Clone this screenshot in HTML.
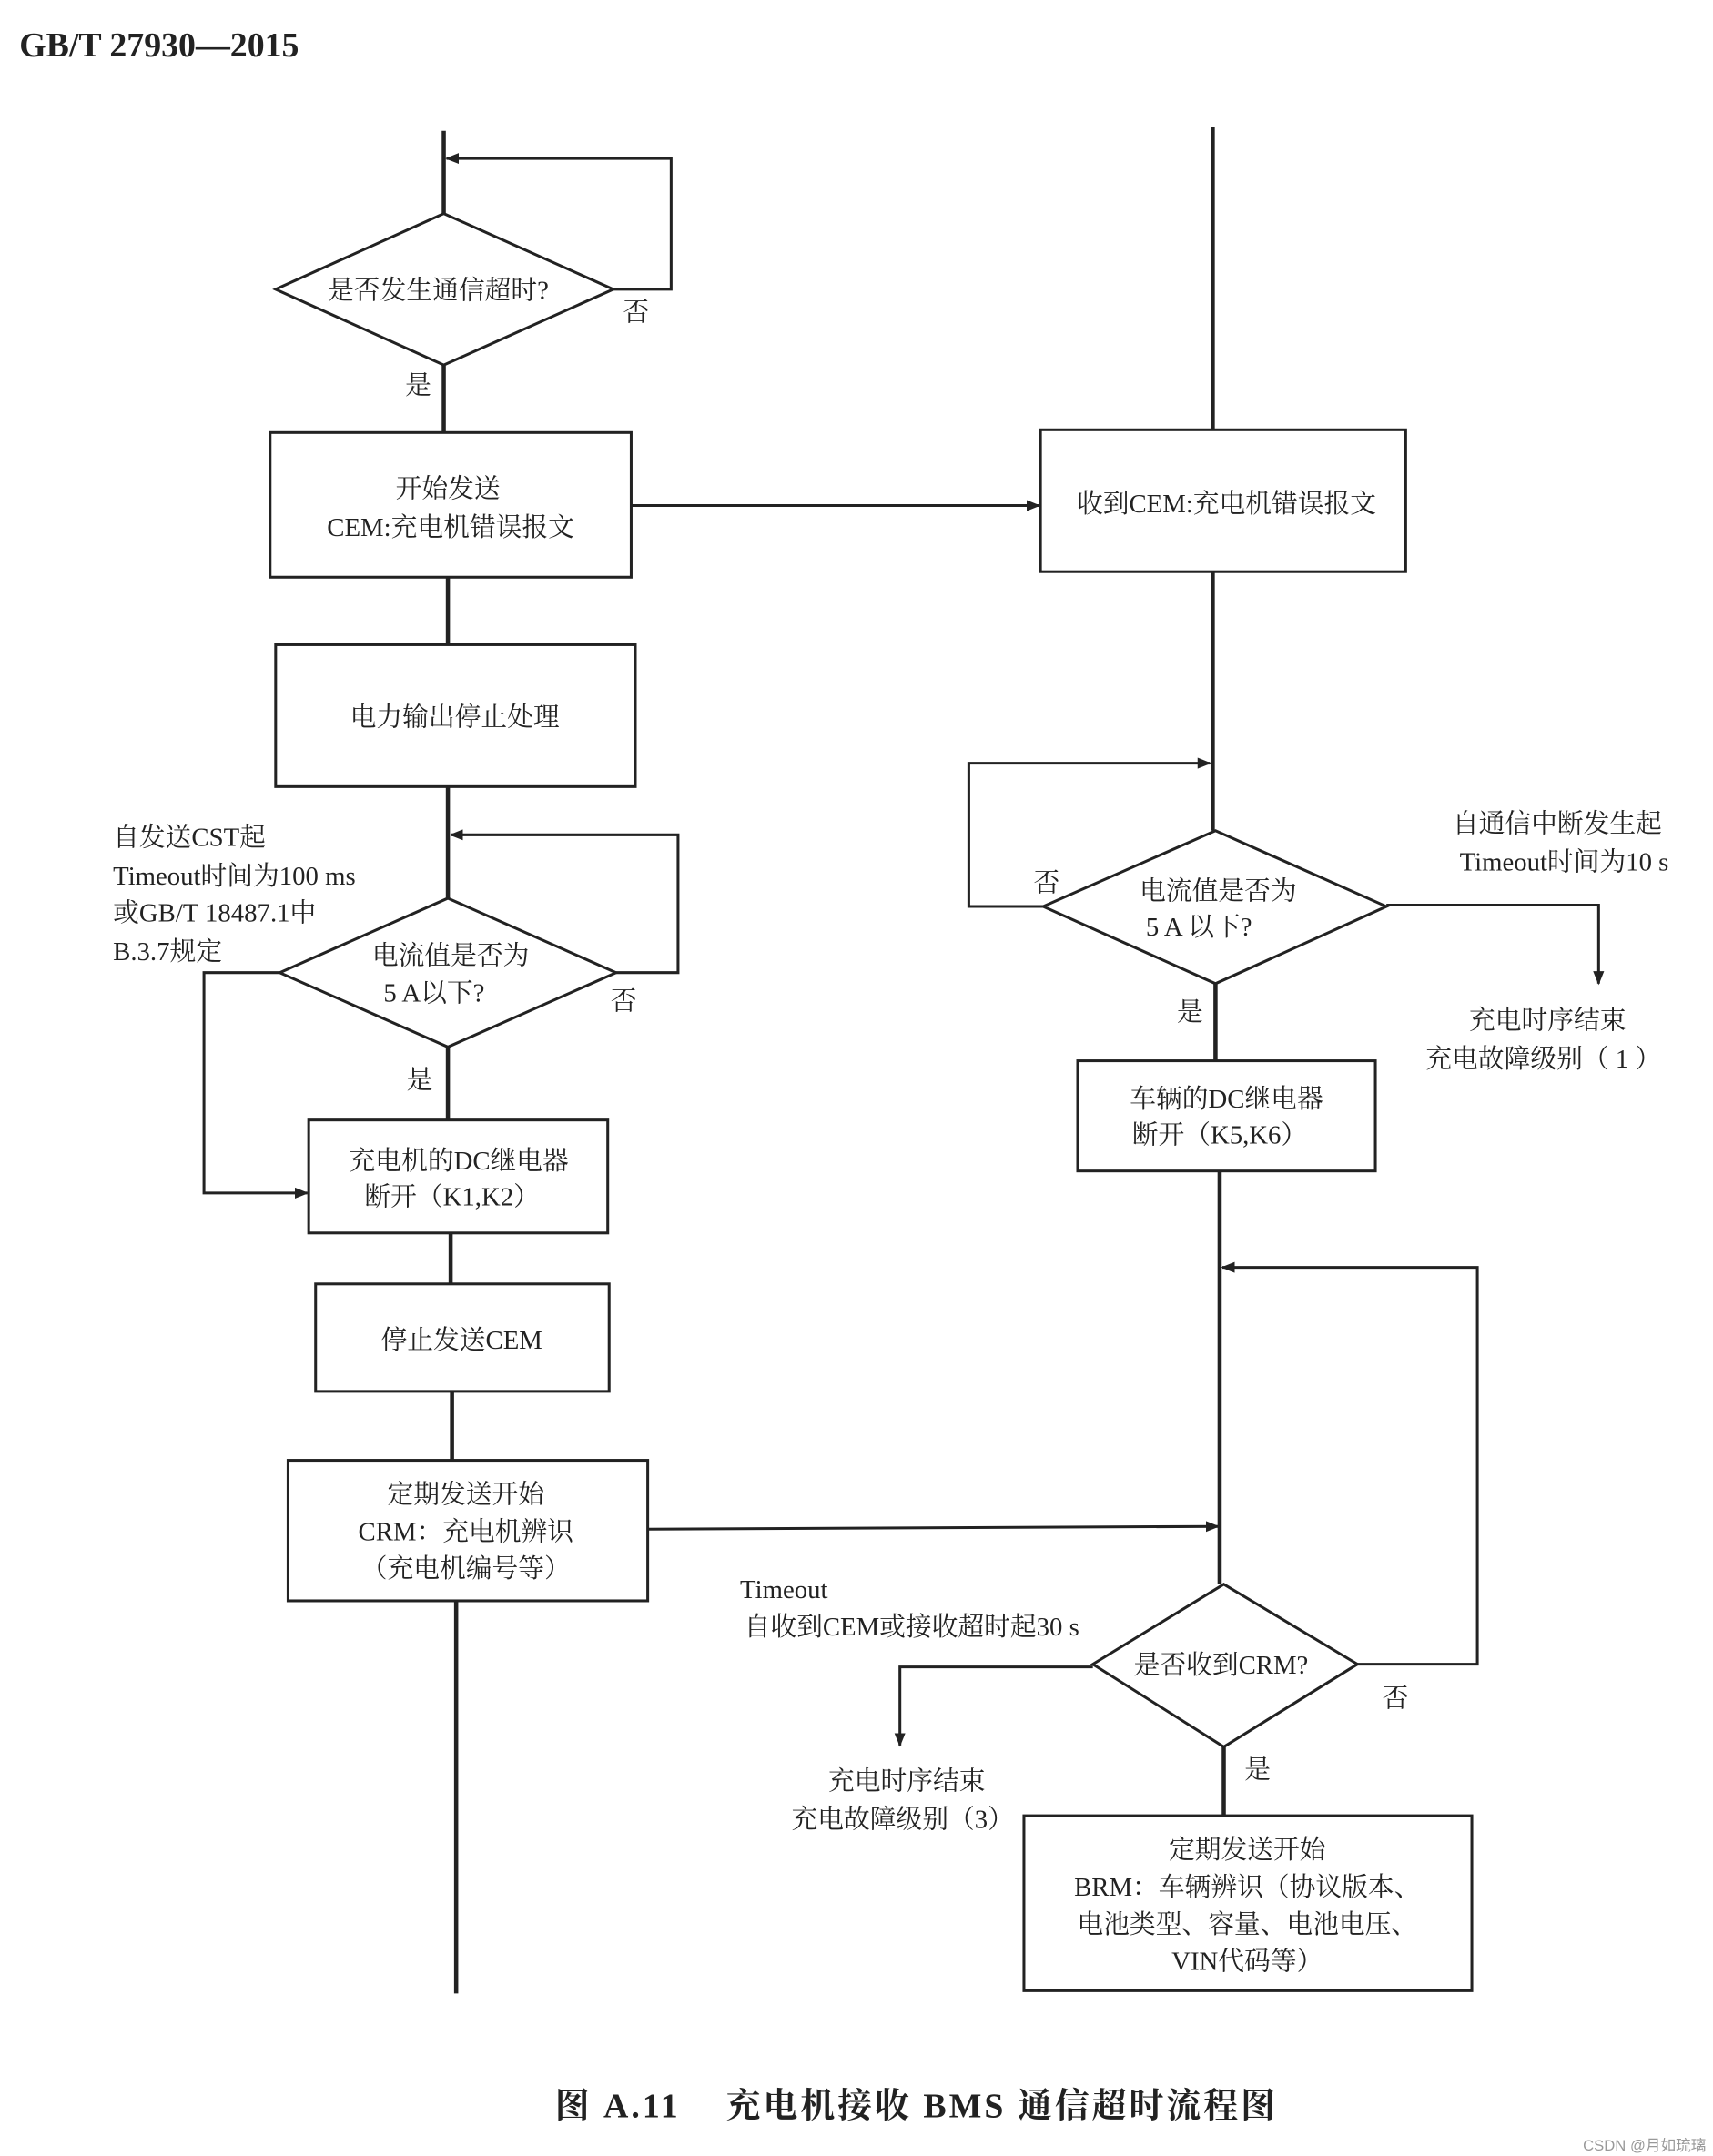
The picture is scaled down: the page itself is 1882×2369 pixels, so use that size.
<!DOCTYPE html>
<html><head><meta charset="utf-8"><style>
html,body{margin:0;padding:0;background:#fff;}
svg{display:block;}
text{font-family:"Liberation Serif","Noto Serif CJK SC","Noto Sans CJK SC",serif;font-size:19px;fill:#222;}
.c{text-anchor:middle;}
</style></head><body>
<svg width="1882" height="2369" viewBox="0 0 1243 1565" preserveAspectRatio="none" xmlns="http://www.w3.org/2000/svg">
<defs><marker id="a" markerWidth="10" markerHeight="10" refX="9" refY="5" orient="auto" markerUnits="userSpaceOnUse"><path d="M0,1 L10,5 L0,9 z" fill="#222"/></marker></defs>
<rect width="1243" height="1565" fill="#fff"/>
<text x="14" y="41" style="font-size:25px;font-weight:bold;font-family:'Liberation Serif',serif">GB/T 27930—2015</text>
<g stroke="#222" stroke-width="3" fill="none">
<line x1="322" y1="95" x2="322" y2="155"/>
<polyline points="445,210 487,210 487,115 324,115" marker-end="url(#a)" stroke-width="2"/>
<polygon points="322,155 445,210 322,265 200,210" stroke-width="2"/>
<line x1="322" y1="265" x2="322" y2="314"/>
<rect x="196" y="314" width="262" height="105" stroke-width="2"/>
<line x1="458" y1="367" x2="754" y2="367" stroke-width="2" marker-end="url(#a)"/>
<line x1="325" y1="419" x2="325" y2="468"/>
<rect x="200" y="468" width="261" height="103" stroke-width="2"/>
<line x1="325" y1="571" x2="325" y2="652"/>
<polyline points="447,706 492,706 492,606 327,606" stroke-width="2" marker-end="url(#a)"/>
<polygon points="325,652 447,706 325,760 203,706" stroke-width="2"/>
<polyline points="203,706 148,706 148,866 223,866" stroke-width="2" marker-end="url(#a)"/>
<line x1="325" y1="760" x2="325" y2="813"/>
<rect x="224" y="813" width="217" height="82" stroke-width="2"/>
<line x1="327" y1="895" x2="327" y2="932"/>
<rect x="229" y="932" width="213" height="78" stroke-width="2"/>
<line x1="328" y1="1010" x2="328" y2="1060"/>
<rect x="209" y="1060" width="261" height="102" stroke-width="2"/>
<line x1="470" y1="1110" x2="884" y2="1108" stroke-width="2" marker-end="url(#a)"/>
<line x1="331" y1="1162" x2="331" y2="1447"/>
<line x1="880" y1="92" x2="880" y2="312"/>
<rect x="755" y="312" width="265" height="103" stroke-width="2"/>
<line x1="880" y1="415" x2="880" y2="603"/>
<polyline points="757,658 703,658 703,554 878,554" stroke-width="2" marker-end="url(#a)"/>
<polygon points="882,603 1006,658 882,714 757,658" stroke-width="2"/>
<polyline points="1006,657 1160,657 1160,714" stroke-width="2" marker-end="url(#a)"/>
<line x1="882" y1="714" x2="882" y2="770"/>
<rect x="782" y="770" width="216" height="80" stroke-width="2"/>
<line x1="885" y1="850" x2="885" y2="1150"/>
<polyline points="985,1208 1072,1208 1072,920 887,920" stroke-width="2" marker-end="url(#a)"/>
<polygon points="888,1150 985,1208 888,1268 793,1208" stroke-width="2"/>
<polyline points="793,1210 653,1210 653,1267" stroke-width="2" marker-end="url(#a)"/>
<line x1="888" y1="1268" x2="888" y2="1318"/>
<rect x="743" y="1318" width="325" height="127" stroke-width="2"/>
</g>
<text class="c" x="318" y="217">是否发生通信超时?</text>
<text x="452" y="233">否</text>
<text x="294" y="286">是</text>
<text class="c" x="325" y="361">开始发送</text>
<text class="c" x="327" y="389">CEM:充电机错误报文</text>
<text class="c" x="890" y="372">收到CEM:充电机错误报文</text>
<text class="c" x="330" y="527">电力输出停止处理</text>
<text x="82" y="614">自发送CST起</text>
<text x="82" y="642">Timeout时间为100 ms</text>
<text x="82" y="669">或GB/T 18487.1中</text>
<text x="82" y="697">B.3.7规定</text>
<text class="c" x="327" y="700">电流值是否为</text>
<text class="c" x="315" y="727">5 A以下?</text>
<text x="443" y="733">否</text>
<text x="295" y="790">是</text>
<text class="c" x="333" y="849">充电机的DC继电器</text>
<text class="c" x="328" y="875">断开（K1,K2）</text>
<text class="c" x="335" y="979">停止发送CEM</text>
<text class="c" x="338" y="1091">定期发送开始</text>
<text class="c" x="338" y="1118">CRM：充电机辨识</text>
<text class="c" x="338" y="1145">（充电机编号等）</text>
<text class="c" x="884" y="653">电流值是否为</text>
<text class="c" x="870" y="679">5 A 以下?</text>
<text x="750" y="647">否</text>
<text x="854" y="741">是</text>
<text class="c" x="1130" y="604">自通信中断发生起</text>
<text class="c" x="1135" y="632">Timeout时间为10 s</text>
<text class="c" x="1123" y="747">充电时序结束</text>
<text class="c" x="1120" y="775">充电故障级别（ 1 ）</text>
<text class="c" x="890" y="804">车辆的DC继电器</text>
<text class="c" x="885" y="830">断开（K5,K6）</text>
<text class="c" x="886" y="1215">是否收到CRM?</text>
<text x="1003" y="1239">否</text>
<text x="903" y="1291">是</text>
<text x="537" y="1160">Timeout</text>
<text x="540" y="1187">自收到CEM或接收超时起30 s</text>
<text class="c" x="658" y="1299">充电时序结束</text>
<text class="c" x="655" y="1327">充电故障级别（3）</text>
<text class="c" x="905" y="1349">定期发送开始</text>
<text class="c" x="905" y="1376">BRM：车辆辨识（协议版本、</text>
<text class="c" x="905" y="1403">电池类型、容量、电池电压、</text>
<text class="c" x="905" y="1430">VIN代码等）</text>
<text class="c" x="665" y="1537" style="font-size:25px;font-weight:bold;white-space:pre;letter-spacing:2px">图 A.11    充电机接收 BMS 通信超时流程图</text>
<text x="1238" y="1561" style="font-size:11px;fill:#999;text-anchor:end;font-family:'Liberation Sans','Noto Sans CJK SC',sans-serif">CSDN @月如琉璃</text>
</svg>
</body></html>
